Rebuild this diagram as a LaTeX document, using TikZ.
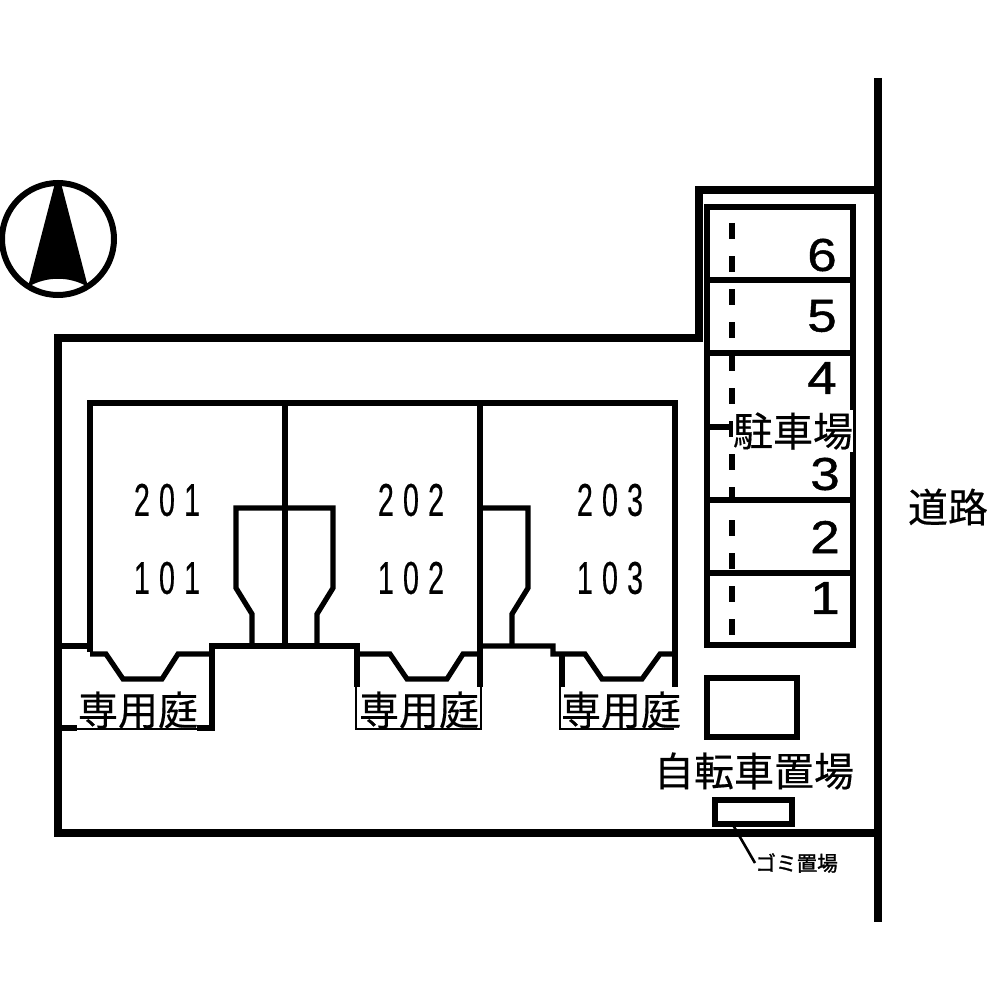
\documentclass[tikz,border=0pt]{standalone}
\usepackage{fontspec}
\setmainfont{Liberation Sans}
\newfontfamily\cjkfont[FakeBold=0.4]{Noto Sans CJK JP}
\newfontfamily\smallcjkfont[FakeBold=1.5]{Noto Sans CJK JP}
\newfontfamily\roomfont[FakeStretch=0.62,LetterSpace=20,FakeBold=0.4]{Liberation Sans}
\newfontfamily\stallfont[FakeStretch=1.15,FakeBold=1]{Liberation Sans}
\tikzset{
	wall/.style={line width=3.6pt},
	inner wall/.style={line width=2.6pt},
	thin wall/.style={line width=1pt},
	place/.style={font=\cjkfont\fontsize{20}{24}\selectfont, inner sep=0pt},
	stall/.style={font=\stallfont\fontsize{23}{26}\selectfont, inner sep=0pt},
	room/.style={font=\roomfont\fontsize{23}{26}\selectfont, inner sep=0pt}
}
\begin{document}
\begin{tikzpicture}[x=0.5pt, y=-0.5pt]
	\useasboundingbox (0,0) rectangle (1000,1000);
	% road and site
	\draw[wall] (878,78) -- (878,922);
	\draw[wall] (878,190) -- (699,190) -- (699,338) -- (58,338) -- (58,833) -- (878,833);
	% building
	\draw[inner wall] (90,652) -- (90,403) -- (675,403) -- (675,687);
	\draw[inner wall] (285,403) -- (285,646);
	\draw[inner wall] (480,403) -- (480,687);
	% stairs
	\draw[inner wall] (252,646) -- (252,614) -- (236,588) -- (236,508) -- (333,508) -- (333,588) -- (317,614) -- (317,646);
	\draw[inner wall] (480,508) -- (528,508) -- (528,588) -- (512,614) -- (512,646);
	% balconies
	\draw[inner wall] (58,646) -- (90,646);
	\draw[inner wall] (90,654) -- (106,654) -- (123,679) -- (162,679) -- (178,654) -- (212,654);
	\draw[inner wall] (58,728) -- (77,728);
	\draw[inner wall] (197,728) -- (212,728) -- (212,646) -- (357,646) -- (357,687);
	\draw[inner wall] (357,654) -- (390,654) -- (407,679) -- (447,679) -- (463,654) -- (480,654);
	\draw[inner wall] (480,646) -- (553,646) -- (553,654) -- (585,654) -- (602,679) -- (642,679) -- (660,654) -- (675,654);
	\draw[inner wall] (562,654) -- (562,687);
	% garden fences
	\draw[thin wall] (77,729) -- (197,729);
	\draw[thin wall] (356,687) -- (356,729) -- (481,729) -- (481,687);
	\draw[thin wall] (560,687) -- (560,729) -- (674,729);
	% parking
	\draw[inner wall] (707,207) rectangle (853,645);
	\foreach \y in {280,353,500,573}
		\draw[inner wall] (707,\y) -- (853,\y);
	\draw[line width=3pt, dash pattern=on 8pt off 8.5pt] (732,223) -- (732,640);
	\draw[inner wall] (707,427) -- (732,427);
	\node[place, fill=white, minimum width=120*0.5pt, minimum height=42*0.5pt] (parking) at (793,431) {駐車場};
	\node[stall] (six) at (822,255) {6};
	\node[stall] (five) at (822,316) {5};
	\node[stall] (four) at (822,378) {4};
	\node[stall] (three) at (825,474) {3};
	\node[stall] (two) at (825,537) {2};
	\node[stall] (one) at (825,598) {1};
	% rooms
	\node[room] (r201) at (167,500) {201};
	\node[room] (r101) at (167,578) {101};
	\node[room] (r202) at (411,500) {202};
	\node[room] (r102) at (411,578) {102};
	\node[room] (r203) at (610,500) {203};
	\node[room] (r103) at (610,578) {103};
	% labels
	\node[place] (garden1) at (138,710) {専用庭};
	\node[place] (garden2) at (419,710) {専用庭};
	\node[place] (garden3) at (621,710) {専用庭};
	\node[place] (road) at (948,507) {道路};
	\node[place] (bikes) at (754,771) {自転車置場};
	% bike shed and rubbish
	\draw[line width=3pt] (707,678) rectangle (797,737);
	\draw[inner wall] (715,800) rectangle (792,824);
	\coordinate (rubbishfoot) at (733,825);
	\node[font=\smallcjkfont\fontsize{10.3}{12}\selectfont, inner sep=0pt, anchor=west] (rubbish) at (755,863) {ゴミ置場};
	\draw[line width=1.3pt] (rubbishfoot) -- (rubbish.west);
	% north
	\draw[line width=3pt] (58,239) circle (56);
	\fill (55,183) -- (61,183) -- (88,287) .. controls (70,276) and (46,276) .. (28,287) -- cycle;
\end{tikzpicture}
\end{document}
